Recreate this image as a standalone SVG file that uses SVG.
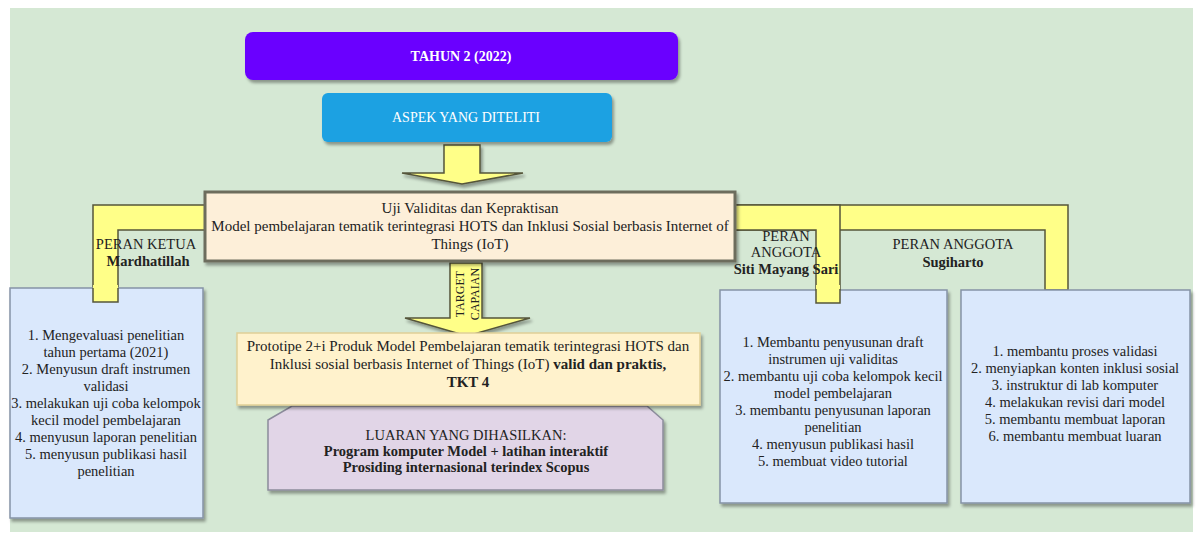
<svg xmlns="http://www.w3.org/2000/svg" width="1200" height="540" viewBox="0 0 1200 540" font-family="'Liberation Serif', 'DejaVu Serif', serif">
<defs>
<filter id="sh" x="-10%" y="-10%" width="130%" height="140%">
<feDropShadow dx="2" dy="3" stdDeviation="1.5" flood-color="#000" flood-opacity="0.35"/>
</filter>
</defs>
<style>
text{font-family:'Liberation Serif','DejaVu Serif',serif;fill:#222;font-size:14.5px}
.c{text-anchor:middle}
.b{font-weight:bold}
.w{fill:#fff;font-size:14px}
.big{font-size:15px}
.yel{fill:#ffff88;stroke:#55553a;stroke-width:1.5;stroke-linejoin:miter}
.role{fill:#dae8fc;stroke:#8593a6;stroke-width:1.5}
</style>
<rect x="0" y="0" width="1200" height="540" fill="#ffffff"/>
<rect x="10" y="8" width="1183" height="524" fill="#d5e8d4"/>

<g id="connectors">
<polygon class="yel" points="93,205 210,205 210,230 118,230 118,302 93,302"/>
<polygon class="yel" points="730,205 1068,205 1068,290 1045,290 1045,230 730,230"/>
<polygon class="yel" points="730,205 840,205 840,303 816,303 816,230 730,230"/>
<polygon class="yel" filter="url(#sh)" points="444,145 480,145 480,173 523,173 462,184 402,173 444,173"/>
<polygon class="yel" filter="url(#sh)" points="450,263 482,263 482,318 530,318 467,336 405,318 450,318"/>
<text class="c" style="font-size:12px" transform="translate(466,294) rotate(-90)"><tspan x="0" y="-2">TARGET</tspan><tspan x="0" y="13">CAPAIAN</tspan></text>
</g>

<g id="tahun">
<rect x="245" y="32" width="433" height="48" rx="8" fill="#6a00ff" filter="url(#sh)"/>
<text class="c b w" x="461" y="61">TAHUN 2 (2022)</text>
</g>

<g id="aspek">
<rect x="322" y="93" width="290" height="49" rx="6" fill="#1ba1e2" filter="url(#sh)"/>
<text class="c w" x="466" y="122">ASPEK YANG DITELITI</text>
</g>

<g id="uji">
<rect x="205" y="192" width="530" height="69" fill="#fdefd9" stroke="#6d6d5d" stroke-width="3" filter="url(#sh)"/>
<text class="c big" x="470" y="213">Uji Validitas dan Kepraktisan</text>
<text class="c big" x="470" y="231">Model pembelajaran tematik terintegrasi HOTS dan Inklusi Sosial berbasis Internet of</text>
<text class="c big" x="470" y="249">Things (IoT)</text>
</g>

<g id="label-ketua">
<text class="c" x="146" y="249">PERAN KETUA</text>
<text class="c b" x="148" y="266">Mardhatillah</text>
</g>

<g id="label-siti">
<text class="c" x="786" y="241">PERAN</text>
<text class="c" x="786" y="257">ANGGOTA</text>
<text class="c b" x="786" y="274">Siti Mayang Sari</text>
</g>

<g id="label-sugiharto">
<text class="c" x="953" y="249">PERAN ANGGOTA</text>
<text class="c b" x="953" y="267">Sugiharto</text>
</g>

<g id="ketua">
<rect class="role" x="10" y="288" width="193" height="230" filter="url(#sh)"/>
<polygon points="93,285 118,285 118,302 93,302" fill="#ffff88"/>
<path d="M93,288 V302 H118 V288" fill="none" stroke="#55553a" stroke-width="1.5"/>
<text class="c" x="106" y="340">1. Mengevaluasi penelitian</text>
<text class="c" x="106" y="357">tahun pertama (2021)</text>
<text class="c" x="106" y="374">2. Menyusun draft instrumen</text>
<text class="c" x="106" y="391">validasi</text>
<text class="c" x="106" y="408">3. melakukan uji coba kelompok</text>
<text class="c" x="106" y="425">kecil model pembelajaran</text>
<text class="c" x="106" y="442">4. menyusun laporan penelitian</text>
<text class="c" x="106" y="459">5. menyusun publikasi hasil</text>
<text class="c" x="106" y="476">penelitian</text>
</g>

<g id="siti">
<rect class="role" x="720" y="290" width="227" height="213" filter="url(#sh)"/>
<polygon points="816,285 840,285 840,303 816,303" fill="#ffff88"/>
<path d="M816,289 V303 H840 V289" fill="none" stroke="#55553a" stroke-width="1.5"/>
<text class="c" x="833" y="347">1. Membantu penyusunan draft</text>
<text class="c" x="833" y="364">instrumen uji validitas</text>
<text class="c" x="833" y="381">2. membantu uji coba kelompok kecil</text>
<text class="c" x="833" y="398">model pembelajaran</text>
<text class="c" x="833" y="415">3.  membantu penyusunan laporan</text>
<text class="c" x="833" y="432">penelitian</text>
<text class="c" x="833" y="449">4. menyusun publikasi hasil</text>
<text class="c" x="833" y="466">5. membuat video tutorial</text>
</g>

<g id="sugiharto">
<rect class="role" x="961" y="290" width="229" height="213" filter="url(#sh)"/>
<text class="c" x="1075" y="356">1. membantu proses validasi</text>
<text class="c" x="1075" y="373">2. menyiapkan konten inklusi sosial</text>
<text class="c" x="1075" y="390">3. instruktur di lab komputer</text>
<text class="c" x="1075" y="407">4. melakukan revisi dari model</text>
<text class="c" x="1075" y="424">5. membantu membuat laporan</text>
<text class="c" x="1075" y="441">6. membantu membuat luaran</text>
</g>

<g id="luaran">
<polygon points="268,420 292,406 647,406 663,420 663,490 268,490" fill="#e1d5e7" stroke="#8c8c9c" stroke-width="1.5" filter="url(#sh)"/>
<text class="c" x="466" y="440">LUARAN YANG DIHASILKAN:</text>
<text class="c b" x="466" y="456">Program komputer Model + latihan interaktif</text>
<text class="c b" x="466" y="472">Prosiding internasional terindex Scopus</text>
</g>

<g id="prototipe">
<rect x="237" y="333" width="463" height="72" fill="#fff2cc" stroke="#e0cf96" stroke-width="1.5" filter="url(#sh)"/>
<text class="c big" x="468" y="351">Prototipe 2+i Produk Model Pembelajaran  tematik terintegrasi HOTS dan</text>
<text class="c big" x="468" y="369">Inklusi sosial berbasis Internet of Things (IoT) <tspan class="b">valid dan praktis,</tspan></text>
<text class="c big b" x="468" y="387">TKT 4</text>
</g>
</svg>
